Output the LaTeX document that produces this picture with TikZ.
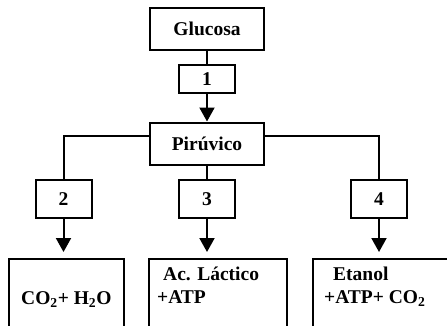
\documentclass[tikz,border=0pt]{standalone}
\usepackage{fontspec}
\setmainfont{Liberation Serif}
\usetikzlibrary{arrows.meta}

\begin{document}
\begin{tikzpicture}[
    x=1pt, y=-1pt,
    box/.style={draw, line width=2pt, inner sep=0pt, font=\bfseries\fontsize{19.5}{23}\selectfont},
    mainbox/.style={box, minimum width=114pt, minimum height=42pt},
    stepbox/.style={box, minimum width=56pt},
    endbox/.style={draw, line width=2pt, anchor=north west, minimum height=100pt},
    link/.style={line width=2pt},
    flow/.style={line width=2pt, -{Triangle[width=15pt,length=14pt]}},
    txt/.style={anchor=base west, inner sep=0pt, font=\bfseries\fontsize{19.5}{23}\selectfont}
]
    \useasboundingbox (0,0) rectangle (447,325);

    % Main route
    \node[mainbox] (glucosa) at (207,29) {Glucosa};
    \node[stepbox, minimum height=28pt] (paso1) at (207,79) {1};
    \node[mainbox] (piruvico) at (207,143.5) {Pirúvico};

    % Steps
    \node[stepbox, minimum height=38pt] (paso2) at (63.5,199) {2};
    \node[stepbox, minimum height=38pt] (paso3) at (207,199) {3};
    \node[stepbox, minimum height=38pt] (paso4) at (379,199) {4};

    % Products
    \node[endbox, minimum width=115pt] (resA) at (8,258) {};
    \node[endbox, minimum width=138pt] (resB) at (148,258) {};
    \node[endbox, minimum width=160pt] (resC) at (312,258) {};
    \node[txt] (textA) at (21,304) {CO\textsubscript{2}+ H\textsubscript{2}O};
    \node[txt] (textB1) at (163,280) {Ac. Láctico};
    \node[txt] (textB2) at (157,303) {+ATP};
    \node[txt] (textC1) at (333,280) {Etanol};
    \node[txt] (textC2) at (324,303) {+ATP+ CO\textsubscript{2}};

    % Connectors
    \draw[link] (glucosa) -- (paso1);
    \draw[flow] (paso1) -- (piruvico);
    \draw[link] ([yshift=7.5pt]piruvico.west) -| (paso2);
    \draw[link] (piruvico) -- (paso3);
    \draw[link] ([yshift=7.5pt]piruvico.east) -| (paso4);
    \draw[flow, shorten >=6pt] (paso2) -- (paso2 |- resA.north);
    \draw[flow, shorten >=6pt] (paso3) -- (paso3 |- resB.north);
    \draw[flow, shorten >=6pt] (paso4) -- (paso4 |- resC.north);
\end{tikzpicture}
\end{document}
